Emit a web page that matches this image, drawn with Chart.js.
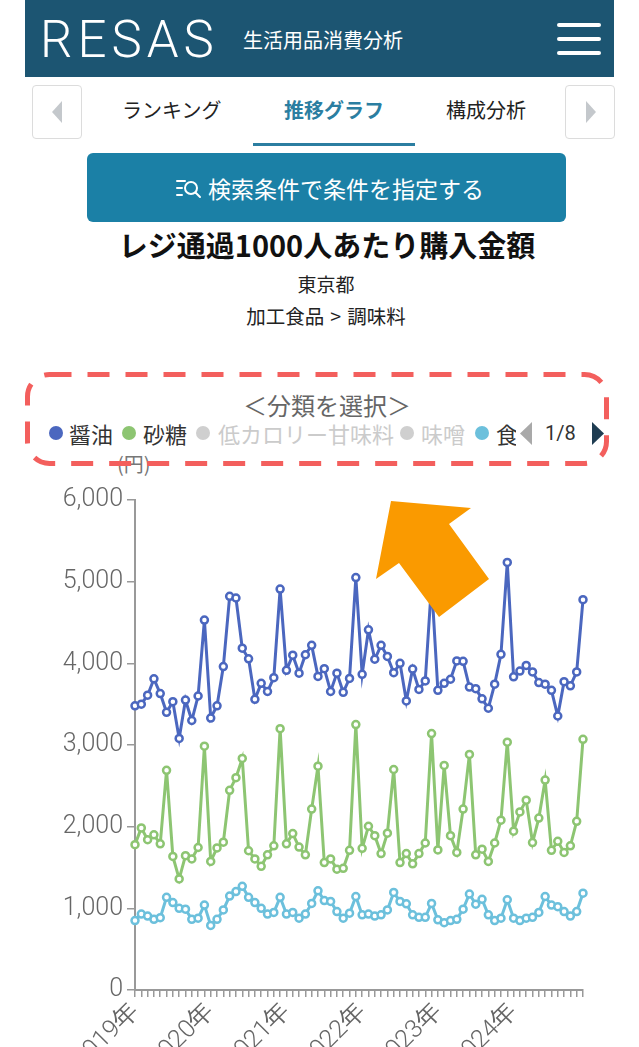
<!DOCTYPE html>
<html lang="ja">
<head>
<meta charset="utf-8">
<script src="https://cdn.jsdelivr.net/npm/chart.js@4.4.1/dist/chart.umd.min.js"></script>
<style>
  body { margin: 0; width: 639px; height: 1047px; overflow: hidden; background: #fff;
         font-family: 'Noto Sans CJK JP', 'Noto Sans', sans-serif; position: relative; }
  .abs { position: absolute; white-space: nowrap; }
  #hdr { left: 25px; top: 0; width: 589px; height: 77px; background: #1c5572; }
  .bar { position: absolute; left: 557px; width: 44px; height: 4px; background: #fff; border-radius: 2px; }
  .navbtn { top: 85px; width: 48px; height: 52px; border: 1px solid #dcdcdc; border-radius: 4px; background: #fff; }
  .tab { top: 95px; font-size: 20px; color: #222; line-height: 30px; }
  .dot { position: absolute; width: 14px; height: 14px; border-radius: 50%; top: 426px; }
  .lg { top: 418px; font-size: 22px; line-height: 30px; color: #333; }
</style>
</head>
<body>

<div id="hdr" class="abs"></div>
<div class="abs" style="left:40px;top:12px;font-family:Roboto,sans-serif;font-weight:300;font-size:51px;line-height:56px;color:#fff;letter-spacing:5px;">RESAS</div>
<div class="abs" style="left:243px;top:27px;font-size:20px;line-height:26px;color:#fff;">生活用品消費分析</div>
<div class="bar" style="top:23px"></div>
<div class="bar" style="top:37px"></div>
<div class="bar" style="top:51px"></div>

<div class="abs navbtn" style="left:32px"></div>
<svg class="abs" style="left:50px;top:101px" width="14" height="22"><polygon points="12,0 12,22 2,11" fill="#c4c8cc"/></svg>
<div class="abs navbtn" style="left:565px"></div>
<svg class="abs" style="left:584px;top:101px" width="14" height="22"><polygon points="2,0 2,22 12,11" fill="#c4c8cc"/></svg>
<div class="abs tab" style="left:122px">ランキング</div>
<div class="abs tab" style="left:284px;color:#2b7ea1;font-weight:bold">推移グラフ</div>
<div class="abs tab" style="left:446px">構成分析</div>
<div class="abs" style="left:253px;top:143px;width:162px;height:3px;background:#2b7ea1"></div>

<div class="abs" style="left:87px;top:153px;width:479px;height:69px;background:#1b80a6;border-radius:6px"></div>
<svg class="abs" style="left:176px;top:178px" width="28" height="22">
  <g stroke="#fff" stroke-width="2" fill="none" stroke-linecap="round">
    <line x1="1" y1="3" x2="9" y2="3"/><line x1="1" y1="10" x2="6" y2="10"/><line x1="1" y1="17" x2="6" y2="17"/>
    <circle cx="15" cy="10" r="6"/><line x1="19.5" y1="14.5" x2="24" y2="19"/>
  </g>
</svg>
<div class="abs" style="left:208px;top:172px;font-size:23px;line-height:32px;color:#fff">検索条件で条件を指定する</div>

<div class="abs" style="left:0;width:654px;text-align:center;top:225px;font-size:29px;line-height:38px;font-weight:bold;color:#111">レジ通過1000人あたり購入金額</div>
<div class="abs" style="left:0;width:652px;text-align:center;top:270px;font-size:19px;line-height:28px;color:#222">東京都</div>
<div class="abs" style="left:0;width:652px;text-align:center;top:302px;font-size:19.5px;line-height:28px;color:#222">加工食品<span style="margin:0 6px">&gt;</span>調味料</div>

<div class="abs" style="left:0;width:654px;text-align:center;top:390px;font-size:24px;line-height:30px;color:#666">＜分類を選択＞</div>
<div class="dot" style="left:49px;background:#4b67bf"></div>
<div class="abs lg" style="left:69px">醤油</div>
<div class="dot" style="left:122px;background:#8dc572"></div>
<div class="abs lg" style="left:143px">砂糖</div>
<div class="dot" style="left:196px;background:#cfcfcf"></div>
<div class="abs lg" style="left:218px;color:#cbcbcb">低カロリー甘味料</div>
<div class="dot" style="left:400px;background:#cfcfcf"></div>
<div class="abs lg" style="left:421px;color:#cbcbcb">味噌</div>
<div class="dot" style="left:475px;background:#6cc0dc"></div>
<div class="abs lg" style="left:496px;width:20px;overflow:hidden">食</div>
<svg class="abs" style="left:519px;top:422px" width="14" height="23"><polygon points="13,0 13,23 1,11.5" fill="#a9a9a9"/></svg>
<div class="abs" style="left:545px;top:420px;font-family:Roboto,sans-serif;font-size:20px;line-height:26px;color:#333">1/8</div>
<svg class="abs" style="left:591px;top:422px" width="14" height="23"><polygon points="1,0 1,23 13,11.5" fill="#1f3d52"/></svg>

<div class="abs" style="left:117px;top:451px;font-size:20px;line-height:26px;color:#777">(円)</div>

<div class="abs" style="left:0;top:440px;width:639px;height:607px">
  <canvas id="trendChart" width="639" height="607"></canvas>
</div>

<svg class="abs" style="left:0;top:0;pointer-events:none" width="639" height="1047">
  <rect x="27.5" y="374.5" width="579" height="89" rx="22" ry="22" fill="none" stroke="#f35f5d" stroke-width="5" stroke-dasharray="22 16"/>
  <polygon points="391,501 471,508 449,524 489,579 439,617 399,563 376,579" fill="#fa9a00"/>
</svg>

<script>
// 月次データ 2019年1月〜2024年12月
const years = ['2019', '2020', '2021', '2022', '2023', '2024'];

const soySauce = [
  3480, 3500, 3610, 3810, 3630, 3400, 3530, 3080, 3550, 3300, 3600, 4530,
  3330, 3480, 3960, 4820, 4800, 4185, 4055, 3560, 3755, 3655, 3825, 4910,
  3915, 4100, 3880, 4105, 4220, 3840, 3935, 3655, 3880, 3645, 3815, 5050,
  3865, 4410, 4050, 4220, 4085, 3885, 4000, 3540, 3930, 3680, 3785, 4980,
  3670, 3755, 3805, 4030, 4025, 3710, 3690, 3565, 3450, 3745, 4110, 5235,
  3835, 3905, 3975, 3895, 3765, 3745, 3670, 3355, 3775, 3725, 3895, 4780
];
const sugar = [
  1780, 1985, 1840, 1900, 1790, 2690, 1635, 1360, 1645, 1605, 1745, 2985,
  1575, 1740, 1810, 2445, 2600, 2835, 1705, 1605, 1515, 1655, 1765, 3200,
  1790, 1915, 1750, 1655, 2215, 2740, 1560, 1605, 1480, 1490, 1710, 3250,
  1735, 2005, 1890, 1670, 1920, 2700, 1560, 1670, 1545, 1670, 1800, 3140,
  1715, 2750, 1890, 1685, 2215, 2885, 1655, 1725, 1575, 1800, 2080, 3035,
  1945, 2180, 2325, 1805, 2105, 2570, 1710, 1820, 1685, 1765, 2065, 3070
];
const shoku = [
  850, 930, 905, 865, 885, 1135, 1070, 1000, 990, 865, 880, 1040,
  790, 865, 980, 1150, 1205, 1270, 1135, 1070, 1000, 930, 950, 1135,
  930, 950, 880, 930, 1060, 1215, 1095, 1085, 960, 880, 940, 1145,
  920, 930, 905, 920, 980, 1195, 1085, 1055, 920, 890, 890, 1060,
  860, 825, 850, 865, 990, 1175, 1050, 1110, 920, 850, 880, 1105,
  880, 850, 880, 890, 950, 1145, 1040, 1020, 960, 905, 960, 1185
];

const months = [];
years.forEach(y => {
  for (let m = 1; m <= 12; m++) months.push(y + '年' + m + '月');
});

function series(label, color, data) {
  return {
    label: label,
    data: data,
    borderColor: color,
    backgroundColor: '#fff',
    borderWidth: 3,
    pointRadius: 3.5,
    pointBorderWidth: 2.5,
    pointBackgroundColor: '#fff',
    pointBorderColor: color,
    tension: 0,
    fill: false
  };
}

const tickFont = { family: 'Roboto, sans-serif', size: 25, weight: '300' };

new Chart(document.getElementById('trendChart'), {
  type: 'line',
  data: {
    labels: months,
    datasets: [
      series('醤油', '#4b67bf', soySauce),
      series('砂糖', '#8dc572', sugar),
      series('食', '#6cc0dc', shoku)
    ]
  },
  options: {
    responsive: false,
    devicePixelRatio: 1,
    animation: false,
    locale: 'en-US',
    layout: { padding: { top: 60, right: 56, left: 0, bottom: 0 } },
    plugins: { legend: { display: false }, tooltip: { enabled: false } },
    scales: {
      x: {
        offset: false,
        border: { color: '#999', width: 2 },
        grid: { drawOnChartArea: false, tickLength: 7, color: '#999', lineWidth: 1.5 },
        ticks: {
          autoSkip: false, minRotation: 45, maxRotation: 45, padding: 0,
          color: '#666', font: tickFont,
          callback: function (value) {
            const lab = this.getLabelForValue(value);
            return lab.endsWith('年1月') ? lab.replace('1月', '') : '';
          }
        },
        afterFit: s => { s.height = 57; }
      },
      y: {
        min: 0, max: 6000,
        border: { color: '#999', width: 2 },
        grid: { drawOnChartArea: false, tickLength: 8, color: '#999', lineWidth: 1.5 },
        ticks: { stepSize: 1000, padding: 4, color: '#666', font: tickFont },
        afterFit: s => { s.width = 135; }
      }
    }
  }
});
</script>
</body>
</html>
